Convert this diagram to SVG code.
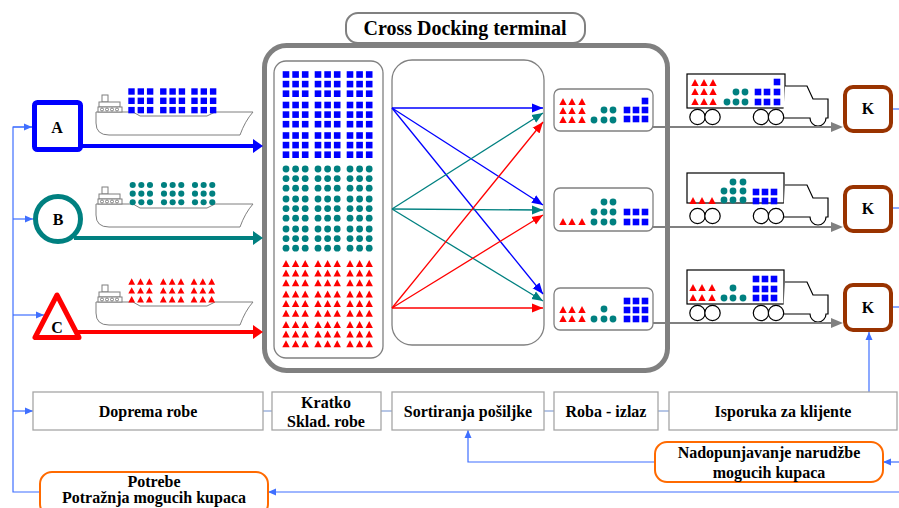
<svg xmlns="http://www.w3.org/2000/svg" width="899" height="508" viewBox="0 0 899 508">
  <style>
    text { font-family: "Liberation Serif", "Times New Roman", serif; font-weight: bold; fill: #000; text-anchor: middle; font-size: 16px; }
    .title { font-size: 20px; }
    .frame { fill: #fff; stroke: #808080; }
    .proc { fill: #fff; stroke: #a6a6a6; stroke-width: 1.3; }
    .order { fill: #fff; stroke: #ff6a00; stroke-width: 2; }
    .kbox { fill: #fff; stroke: #993300; stroke-width: 4; }
    .fb { fill: none; stroke: #3f6fff; stroke-width: 1.2; }
    .link { fill: none; stroke: #8fa8d8; stroke-width: 1.3; }
    .ship path, .ship rect, .ship circle { fill: #fff; stroke: #7f7f7f; stroke-width: 1; }
    .truck rect, .truck path, .truck circle { fill: #fff; stroke: #000; stroke-width: 1.2; }
    .out { fill: none; stroke: #808080; stroke-width: 2; }
  </style>
  <defs>
    <!-- cargo units -->
    <rect id="sq" x="-3.3" y="-3.3" width="6.6" height="6.6" fill="#0000ff"/>
    <circle id="dt" r="3.4" fill="#008080"/>
    <polygon id="tr" points="0,-4 3.7,3 -3.7,3" fill="#ff0000"/>
    <!-- 3x3 blocks of cargo -->
    <g id="bS">
      <use href="#sq"/><use href="#sq" x="9.6"/><use href="#sq" x="19.2"/>
      <use href="#sq" y="9.6"/><use href="#sq" x="9.6" y="9.6"/><use href="#sq" x="19.2" y="9.6"/>
      <use href="#sq" y="19.2"/><use href="#sq" x="9.6" y="19.2"/><use href="#sq" x="19.2" y="19.2"/>
    </g>
    <g id="bD">
      <use href="#dt"/><use href="#dt" x="9.6"/><use href="#dt" x="19.2"/>
      <use href="#dt" y="9.6"/><use href="#dt" x="9.6" y="9.6"/><use href="#dt" x="19.2" y="9.6"/>
      <use href="#dt" y="19.2"/><use href="#dt" x="9.6" y="19.2"/><use href="#dt" x="19.2" y="19.2"/>
    </g>
    <g id="bT">
      <use href="#tr"/><use href="#tr" x="9.6"/><use href="#tr" x="19.2"/>
      <use href="#tr" y="9.6"/><use href="#tr" x="9.6" y="9.6"/><use href="#tr" x="19.2" y="9.6"/>
      <use href="#tr" y="19.2"/><use href="#tr" x="9.6" y="19.2"/><use href="#tr" x="19.2" y="19.2"/>
    </g>
    <!-- container ship, origin at stern top of hull -->
    <g id="ship" class="ship">
      <path d="M0,0 H37 L44,4 H111 L119,0 H157 Q149,9 144,23 H13 Q0,23 0,11 Z"/>
      <rect x="6" y="-17" width="6" height="7"/>
      <rect x="3" y="-10" width="21" height="5"/>
      <rect x="2" y="-5" width="24" height="5"/>
      <circle cx="6" cy="-2.5" r="1.5"/><circle cx="11" cy="-2.5" r="1.5"/>
      <circle cx="16" cy="-2.5" r="1.5"/><circle cx="21" cy="-2.5" r="1.5"/>
    </g>
    <!-- truck cab and wheels, origin at trailer top-left -->
    <g id="chassis" class="truck">
      <path d="M98,12 H120 L126,25 H141 V44 H139 A8,8 0 0 1 123,44 H96"/>
      <circle cx="10.5" cy="43" r="7.7"/><circle cx="25.5" cy="43" r="7.7"/>
      <circle cx="74" cy="43" r="7.7"/><circle cx="89" cy="43" r="7.7"/>
    </g>
    <!-- arrowheads -->
    <marker id="hBlue" viewBox="0 -8 10 16" markerWidth="10" markerHeight="16" refX="0" refY="0" orient="auto" markerUnits="userSpaceOnUse">
      <path d="M0,-7 L10,0 L0,7 Z" fill="#0000ff"/>
    </marker>
    <marker id="hTeal" viewBox="0 -8 10 16" markerWidth="10" markerHeight="16" refX="0" refY="0" orient="auto" markerUnits="userSpaceOnUse">
      <path d="M0,-7 L10,0 L0,7 Z" fill="#008080"/>
    </marker>
    <marker id="hRed" viewBox="0 -8 10 16" markerWidth="10" markerHeight="16" refX="0" refY="0" orient="auto" markerUnits="userSpaceOnUse">
      <path d="M0,-7 L10,0 L0,7 Z" fill="#ff0000"/>
    </marker>
    <marker id="sBlue" viewBox="0 -5 11 10" markerWidth="11" markerHeight="10" refX="11" refY="0" orient="auto" markerUnits="userSpaceOnUse">
      <path d="M0,-4.5 L11,0 L0,4.5 Z" fill="#0000ff"/>
    </marker>
    <marker id="sTeal" viewBox="0 -5 11 10" markerWidth="11" markerHeight="10" refX="11" refY="0" orient="auto" markerUnits="userSpaceOnUse">
      <path d="M0,-4.5 L11,0 L0,4.5 Z" fill="#008080"/>
    </marker>
    <marker id="sRed" viewBox="0 -5 11 10" markerWidth="11" markerHeight="10" refX="11" refY="0" orient="auto" markerUnits="userSpaceOnUse">
      <path d="M0,-4.5 L11,0 L0,4.5 Z" fill="#ff0000"/>
    </marker>
    <marker id="hGray" viewBox="0 -5 12 10" markerWidth="12" markerHeight="10" refX="0" refY="0" orient="auto" markerUnits="userSpaceOnUse">
      <path d="M0,-5 L12,0 L0,5 Z" fill="#808080"/>
    </marker>
    <marker id="hFb" viewBox="0 -4 8 8" markerWidth="8" markerHeight="8" refX="8" refY="0" orient="auto" markerUnits="userSpaceOnUse">
      <path d="M0,-3.5 L8,0 L0,3.5 Z" fill="#3f6fff"/>
    </marker>
  </defs>

  <!-- terminal frame -->
  <g id="terminal">
    <rect class="frame" x="264.5" y="45.5" width="403" height="325" rx="22" stroke-width="5"/>
    <rect class="frame" x="346" y="13" width="239" height="30" rx="12" stroke-width="2"/>
    <text class="title" x="465" y="35">Cross Docking terminal</text>
  </g>

  <!-- short-term storage -->
  <g id="storage">
    <rect class="frame" x="274" y="61" width="109" height="297" rx="12" stroke-width="1.3"/>
    <use href="#bS" x="286" y="74.5"/><use href="#bS" x="318" y="74.5"/><use href="#bS" x="350" y="74.5"/>
    <use href="#bS" x="286" y="105"/><use href="#bS" x="318" y="105"/><use href="#bS" x="350" y="105"/>
    <use href="#bS" x="286" y="135.5"/><use href="#bS" x="318" y="135.5"/><use href="#bS" x="350" y="135.5"/>
    <use href="#bD" x="286" y="169"/><use href="#bD" x="318" y="169"/><use href="#bD" x="350" y="169"/>
    <use href="#bD" x="286" y="199"/><use href="#bD" x="318" y="199"/><use href="#bD" x="350" y="199"/>
    <use href="#bD" x="286" y="229"/><use href="#bD" x="318" y="229"/><use href="#bD" x="350" y="229"/>
    <use href="#bT" x="286" y="264"/><use href="#bT" x="318" y="264"/><use href="#bT" x="350" y="264"/>
    <use href="#bT" x="286" y="294.5"/><use href="#bT" x="318" y="294.5"/><use href="#bT" x="350" y="294.5"/>
    <use href="#bT" x="286" y="325"/><use href="#bT" x="318" y="325"/><use href="#bT" x="350" y="325"/>
  </g>

  <!-- sorting area -->
  <g id="sorting">
    <rect class="frame" x="392" y="60" width="152" height="285" rx="20" stroke-width="1.3"/>
  </g>

  <!-- outbound groups -->
  <g id="out1">
    <rect class="frame" x="554" y="89" width="99" height="42" rx="6" stroke-width="1.3"/>
    <use href="#tr" x="563" y="102"/><use href="#tr" x="572" y="102"/><use href="#tr" x="582" y="102"/>
    <use href="#tr" x="563" y="111"/><use href="#tr" x="572" y="111"/><use href="#tr" x="582" y="111"/>
    <use href="#tr" x="563" y="120"/><use href="#tr" x="572" y="120"/><use href="#tr" x="582" y="120"/>
    <use href="#dt" x="604" y="110"/><use href="#dt" x="613" y="110"/>
    <use href="#dt" x="594" y="120"/><use href="#dt" x="604" y="120"/><use href="#dt" x="613" y="120"/>
    <use href="#sq" x="645" y="101"/>
    <use href="#sq" x="627" y="110"/><use href="#sq" x="636" y="110"/><use href="#sq" x="645" y="110"/>
    <use href="#sq" x="627" y="119"/><use href="#sq" x="636" y="119"/><use href="#sq" x="645" y="119"/>
  </g>
  <g id="out2">
    <rect class="frame" x="554" y="188" width="99" height="43" rx="6" stroke-width="1.3"/>
    <use href="#tr" x="563" y="222"/><use href="#tr" x="572" y="222"/><use href="#tr" x="582" y="222"/>
    <use href="#dt" x="604" y="202"/><use href="#dt" x="613" y="202"/>
    <use href="#dt" x="594" y="212"/><use href="#dt" x="604" y="212"/><use href="#dt" x="613" y="212"/>
    <use href="#dt" x="594" y="222"/><use href="#dt" x="604" y="222"/><use href="#dt" x="613" y="222"/>
    <use href="#sq" x="627" y="212"/><use href="#sq" x="636" y="212"/><use href="#sq" x="645" y="212"/>
    <use href="#sq" x="627" y="222"/><use href="#sq" x="636" y="222"/><use href="#sq" x="645" y="222"/>
  </g>
  <g id="out3">
    <rect class="frame" x="554" y="288" width="99" height="42" rx="6" stroke-width="1.3"/>
    <use href="#tr" x="563" y="310"/><use href="#tr" x="572" y="310"/><use href="#tr" x="582" y="310"/>
    <use href="#tr" x="563" y="319"/><use href="#tr" x="572" y="319"/><use href="#tr" x="582" y="319"/>
    <use href="#dt" x="604" y="309"/>
    <use href="#dt" x="594" y="319"/><use href="#dt" x="604" y="319"/><use href="#dt" x="613" y="319"/>
    <use href="#sq" x="627" y="301"/><use href="#sq" x="636" y="301"/><use href="#sq" x="645" y="301"/>
    <use href="#sq" x="627" y="310"/><use href="#sq" x="636" y="310"/><use href="#sq" x="645" y="310"/>
    <use href="#sq" x="627" y="319"/><use href="#sq" x="636" y="319"/><use href="#sq" x="645" y="319"/>
  </g>

  <!-- inbound ships -->
  <g id="shipA">
    <use href="#ship" x="96" y="112"/>
    <use href="#bS" transform="translate(131.5,91.5) scale(0.97)"/>
    <use href="#bS" transform="translate(163.3,91.5) scale(0.97)"/>
    <use href="#bS" transform="translate(194.5,91.5) scale(0.97)"/>
  </g>
  <g id="shipB">
    <use href="#ship" x="96" y="204"/>
    <use href="#bD" transform="translate(132.7,185) scale(0.9)"/>
    <use href="#bD" transform="translate(164,185) scale(0.9)"/>
    <use href="#bD" transform="translate(195,185) scale(0.9)"/>
  </g>
  <g id="shipC">
    <use href="#ship" x="96" y="302"/>
    <use href="#bT" transform="translate(131.7,282) scale(0.92)"/>
    <use href="#bT" transform="translate(163.3,282) scale(0.92)"/>
    <use href="#bT" transform="translate(194,282) scale(0.92)"/>
  </g>

  <!-- outbound trucks -->
  <g id="truck1">
    <g class="truck"><rect x="687" y="74" width="98" height="34"/></g>
    <use href="#chassis" x="687" y="74"/>
    <use href="#tr" x="695" y="83"/><use href="#tr" x="704" y="83"/><use href="#tr" x="713" y="83"/>
    <use href="#tr" x="695" y="92"/><use href="#tr" x="704" y="92"/><use href="#tr" x="713" y="92"/>
    <use href="#tr" x="695" y="102"/><use href="#tr" x="704" y="102"/><use href="#tr" x="713" y="102"/>
    <use href="#dt" x="736" y="92"/><use href="#dt" x="745" y="92"/>
    <use href="#dt" x="727" y="102"/><use href="#dt" x="736" y="102"/><use href="#dt" x="745" y="102"/>
    <use href="#sq" x="777" y="82"/>
    <use href="#sq" x="758" y="92"/><use href="#sq" x="767" y="92"/><use href="#sq" x="777" y="92"/>
    <use href="#sq" x="758" y="102"/><use href="#sq" x="767" y="102"/><use href="#sq" x="777" y="102"/>
  </g>
  <g id="truck2">
    <g class="truck"><rect x="687" y="173" width="97" height="30"/></g>
    <use href="#chassis" x="687" y="173"/>
    <use href="#tr" x="693" y="201"/><use href="#tr" x="702" y="201"/><use href="#tr" x="712" y="201"/>
    <use href="#dt" x="733" y="182"/><use href="#dt" x="743" y="182"/>
    <use href="#dt" x="724" y="191"/><use href="#dt" x="733" y="191"/><use href="#dt" x="743" y="191"/>
    <use href="#dt" x="724" y="200"/><use href="#dt" x="733" y="200"/><use href="#dt" x="743" y="200"/>
    <use href="#sq" x="756" y="192"/><use href="#sq" x="765" y="192"/><use href="#sq" x="774" y="192"/>
    <use href="#sq" x="756" y="201"/><use href="#sq" x="765" y="201"/><use href="#sq" x="774" y="201"/>
  </g>
  <g id="truck3">
    <g class="truck"><rect x="687" y="270" width="97" height="34"/></g>
    <use href="#chassis" x="687" y="270"/>
    <use href="#tr" x="693" y="288"/><use href="#tr" x="702" y="288"/><use href="#tr" x="712" y="288"/>
    <use href="#tr" x="693" y="298"/><use href="#tr" x="702" y="298"/><use href="#tr" x="712" y="298"/>
    <use href="#dt" x="733" y="288"/>
    <use href="#dt" x="724" y="298"/><use href="#dt" x="733" y="298"/><use href="#dt" x="743" y="298"/>
    <use href="#sq" x="756" y="279"/><use href="#sq" x="765" y="279"/><use href="#sq" x="774" y="279"/>
    <use href="#sq" x="756" y="289"/><use href="#sq" x="765" y="289"/><use href="#sq" x="774" y="289"/>
    <use href="#sq" x="756" y="298"/><use href="#sq" x="765" y="298"/><use href="#sq" x="774" y="298"/>
  </g>

  <!-- connectors -->
  <g id="connectors">
    <!-- inbound flows -->
    <line x1="80" y1="146" x2="253" y2="146" stroke="#0000ff" stroke-width="4" marker-end="url(#hBlue)"/>
    <line x1="74" y1="238" x2="253" y2="238" stroke="#008080" stroke-width="4" marker-end="url(#hTeal)"/>
    <line x1="78" y1="332" x2="253" y2="332" stroke="#ff0000" stroke-width="4" marker-end="url(#hRed)"/>
    <!-- sorting flows -->
    <g fill="none" stroke-width="1.3">
      <line x1="392" y1="108" x2="543" y2="108" stroke="#0000ff" marker-end="url(#sBlue)"/>
      <line x1="392" y1="108" x2="543" y2="205" stroke="#0000ff" marker-end="url(#sBlue)"/>
      <line x1="392" y1="108" x2="543" y2="294" stroke="#0000ff" marker-end="url(#sBlue)"/>
      <line x1="392" y1="209" x2="543" y2="113" stroke="#008080" marker-end="url(#sTeal)"/>
      <line x1="392" y1="209" x2="543" y2="210" stroke="#008080" marker-end="url(#sTeal)"/>
      <line x1="392" y1="209" x2="543" y2="301" stroke="#008080" marker-end="url(#sTeal)"/>
      <line x1="392" y1="308" x2="543" y2="122" stroke="#ff0000" marker-end="url(#sRed)"/>
      <line x1="392" y1="308" x2="543" y2="215" stroke="#ff0000" marker-end="url(#sRed)"/>
      <line x1="392" y1="308" x2="543" y2="308" stroke="#ff0000" marker-end="url(#sRed)"/>
    </g>
    <!-- deliveries to customers -->
    <line class="out" x1="653" y1="127" x2="831" y2="127" marker-end="url(#hGray)"/>
    <line class="out" x1="653" y1="227" x2="831" y2="227" marker-end="url(#hGray)"/>
    <line class="out" x1="653" y1="323" x2="831" y2="323" marker-end="url(#hGray)"/>
    <!-- process chain links -->
    <line class="link" x1="263" y1="411" x2="272" y2="411"/>
    <line class="link" x1="381" y1="411" x2="392" y2="411"/>
    <line class="link" x1="544" y1="411" x2="554" y2="411"/>
    <line class="link" x1="658" y1="411" x2="669" y2="411"/>
    <!-- demand feedback -->
    <path class="fb" d="M32,127 H13 V492 H40"/>
    <line class="fb" x1="13" y1="127" x2="32" y2="127" marker-end="url(#hFb)"/>
    <line class="fb" x1="13" y1="219" x2="33" y2="219" marker-end="url(#hFb)"/>
    <line class="fb" x1="13" y1="315" x2="44" y2="315" marker-end="url(#hFb)"/>
    <line class="fb" x1="13" y1="411" x2="33" y2="411" marker-end="url(#hFb)"/>
    <line class="fb" x1="899" y1="492" x2="268" y2="492" marker-end="url(#hFb)"/>
    <line class="fb" x1="899" y1="462" x2="883" y2="462" marker-end="url(#hFb)"/>
    <path class="fb" d="M655,462 H468 V430" marker-end="url(#hFb)"/>
    <line class="fb" x1="869" y1="392" x2="869" y2="332" marker-end="url(#hFb)"/>
    <line class="fb" x1="893" y1="109" x2="899" y2="109"/>
    <line class="fb" x1="893" y1="208" x2="899" y2="208"/>
    <line class="fb" x1="893" y1="307" x2="899" y2="307"/>
  </g>

  <!-- suppliers -->
  <g id="nodeA">
    <rect x="34.5" y="102.5" width="46" height="47" rx="3" fill="#fff" stroke="#0000ff" stroke-width="5"/>
    <text x="57" y="133">A</text>
  </g>
  <g id="nodeB">
    <circle cx="58" cy="219" r="22.5" fill="#fff" stroke="#008080" stroke-width="5"/>
    <text x="58" y="225">B</text>
  </g>
  <g id="nodeC">
    <polygon points="57,295 35,337.5 79,337.5" fill="#fff" stroke="#ff0000" stroke-width="5" stroke-linejoin="round"/>
    <text x="57" y="333">C</text>
  </g>

  <!-- customers -->
  <g id="k1">
    <rect class="kbox" x="845" y="87" width="46" height="44" rx="8"/>
    <text x="868" y="114">K</text>
  </g>
  <g id="k2">
    <rect class="kbox" x="845" y="187" width="46" height="44" rx="8"/>
    <text x="868" y="214">K</text>
  </g>
  <g id="k3">
    <rect class="kbox" x="845" y="285" width="46" height="45" rx="8"/>
    <text x="868" y="313">K</text>
  </g>

  <!-- process chain -->
  <g id="doprema">
    <rect class="proc" x="33" y="392" width="230" height="38"/>
    <text x="148" y="417">Doprema robe</text>
  </g>
  <g id="kratko">
    <rect class="proc" x="272" y="392" width="109" height="38"/>
    <text x="326" y="408">Kratko</text>
    <text x="326" y="427">Sklad. robe</text>
  </g>
  <g id="sortiranja">
    <rect class="proc" x="392" y="392" width="152" height="38"/>
    <text x="468" y="417">Sortiranja pošiljke</text>
  </g>
  <g id="roba">
    <rect class="proc" x="554" y="392" width="104" height="38"/>
    <text x="606" y="417">Roba - izlaz</text>
  </g>
  <g id="isporuka">
    <rect class="proc" x="669" y="392" width="228" height="38"/>
    <text x="783" y="417">Isporuka za klijente</text>
  </g>

  <!-- customer demand -->
  <g id="nadopunjavanje">
    <rect class="order" x="655" y="442" width="228" height="40" rx="12"/>
    <text x="769" y="458">Nadopunjavanje narudžbe</text>
    <text x="769" y="478">mogucih kupaca</text>
  </g>
  <g id="potrebe">
    <rect class="order" x="40" y="472" width="228" height="44" rx="12"/>
    <text x="154" y="487">Potrebe</text>
    <text x="154" y="503">Potražnja mogucih kupaca</text>
  </g>
</svg>
